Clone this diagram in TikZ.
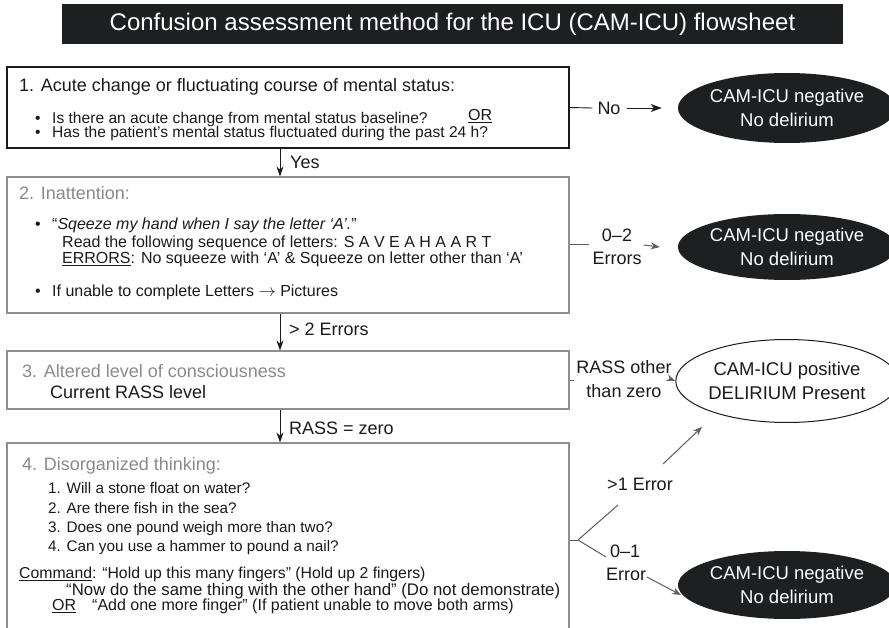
\documentclass[tikz,border=0pt]{standalone}
\usepackage{fontspec}
\setmainfont{Liberation Sans}
\usetikzlibrary{arrows.meta,shapes.geometric}
\definecolor{barfill}{HTML}{1E1F21}
\definecolor{boxgray}{HTML}{8E8E8E}
\definecolor{headgray}{HTML}{8A8A8A}
\definecolor{arrgray}{HTML}{5E5E5E}
\definecolor{inkblack}{HTML}{1A1A1A}
\tikzset{
  frameA/.style={rectangle, draw=inkblack, line width=1.1pt, inner sep=0pt},
  frameB/.style={rectangle, draw=boxgray, line width=1.1pt, inner sep=0pt},
  oval/.style={ellipse, inner sep=0pt, align=center, font=\fontsize{18.5}{24}\selectfont},
  negoval/.style={oval, fill=barfill, text=white},
  posoval/.style={oval, draw=inkblack, fill=white, line width=1pt, text=inkblack},
  head/.style={anchor=base west, inner sep=0pt, text=inkblack, font=\fontsize{18}{18}\selectfont},
  ghead/.style={head, text=headgray},
  bodytxt/.style={anchor=base west, inner sep=0pt, text=inkblack, font=\fontsize{16}{16}\selectfont},
  bultxt/.style={anchor=base west, inner sep=0pt, text=inkblack, font=\fontsize{15.6}{15.6}\selectfont},
  itemtxt/.style={anchor=base west, inner sep=0pt, text=inkblack, font=\fontsize{15.3}{15.3}\selectfont},
  cmdtxt/.style={anchor=base west, inner sep=0pt, text=inkblack, font=\fontsize{15.8}{15.8}\selectfont},
  lbl/.style={inner sep=0pt, text=inkblack, align=center, font=\fontsize{18}{23}\selectfont},
  downarr/.style={draw=inkblack, line width=1pt, -{Stealth[length=10pt,width=7pt]}},
  blackline/.style={draw=inkblack, line width=0.9pt},
  blackarr/.style={draw=inkblack, line width=0.9pt, -{Stealth[length=11pt,width=8pt,inset=3pt]}},
  grayline/.style={draw=arrgray, line width=1pt},
  grayarr/.style={draw=arrgray, line width=1pt, -{Stealth[length=9pt,width=7pt]}},
}
\begin{document}
\begin{tikzpicture}[x=1pt,y=-1pt]
\useasboundingbox (0,0) rectangle (889,628);
\clip (0,0) rectangle (889,628);

% title
\node[fill=barfill, text=white, minimum width=781pt, minimum height=40pt, inner sep=0pt,
      font=\fontsize{24}{24}\selectfont] (title) at (452.5,24)
      {Confusion assessment method for the ICU (CAM-ICU) flowsheet};

% boxes
\node[frameA, minimum width=562pt, minimum height=81pt] (b1) at (288,107.5) {};
\node[frameB, minimum width=562pt, minimum height=136pt] (b2) at (288,245) {};
\node[frameB, minimum width=562pt, minimum height=58pt] (b3) at (288,380) {};
\node[frameB, minimum width=562pt, minimum height=194pt] (b4) at (288,540) {};

% box 1 text
\node[head] (t1) at (19,92) {1. Acute change or fluctuating course of mental status:};
\node[bultxt] (t1a) at (35,123.5) {•};
\node[bultxt] (t1b) at (52,123.5) {Is there an acute change from mental status baseline?};
\node[bodytxt] (t1c) at (468,121) {\underline{OR}};
\node[bultxt] (t1d) at (35,137.5) {•};
\node[bultxt] (t1e) at (52,137.5) {Has the patient’s mental status fluctuated during the past 24 h?};

% box 2 text
\node[ghead] (t2) at (19,199.5) {2. Inattention:};
\node[bodytxt] (t2a) at (35,229.5) {•};
\node[bodytxt] (t2b) at (52,229.5) {“\textit{Sqeeze my hand when I say the letter ‘A’.}”};
\node[bodytxt] (t2c) at (62,247.5) {Read the following sequence of letters: S A V E A H A A R T};
\node[bodytxt] (t2d) at (62,263.5) {\underline{ERRORS}: No squeeze with ‘A’ \& Squeeze on letter other than ‘A’};
\node[bodytxt] (t2e) at (35,296.5) {•};
\node[bodytxt] (t2f) at (52,296.5) {If unable to complete Letters $\rightarrow$ Pictures};

% box 3 text
\node[ghead] (t3) at (22,377.5) {3. Altered level of consciousness};
\node[head] (t3a) at (50,398.5) {Current RASS level};

% box 4 text
\node[ghead] (t4) at (22,470.5) {4. Disorganized thinking:};
\node[itemtxt] (q1) at (48,493.5) {1. Will a stone float on water?};
\node[itemtxt] (q2) at (48,513) {2. Are there fish in the sea?};
\node[itemtxt] (q3) at (48,532.5) {3. Does one pound weigh more than two?};
\node[itemtxt] (q4) at (48,551.5) {4. Can you use a hammer to pound a nail?};
\node[cmdtxt] (c1) at (19,578.7) {\underline{Command}: “Hold up this many fingers” (Hold up 2 fingers)};
\node[cmdtxt, font=\fontsize{16.8}{16.8}\selectfont] (c2) at (66,595.7) {“Now do the same thing with the other hand” (Do not demonstrate)};
\node[cmdtxt, font=\fontsize{16}{16}\selectfont] (c3) at (52,610.7) {\underline{OR}};
\node[cmdtxt, font=\fontsize{16}{16}\selectfont] (c4) at (92,610.7) {“Add one more finger” (If patient unable to move both arms)};

% ovals
\node[negoval, minimum width=202pt, minimum height=70pt] (e1) at (787,108) {CAM-ICU negative\\No delirium};
\node[negoval, minimum width=202pt, minimum height=66pt] (e2) at (787,247) {CAM-ICU negative\\No delirium};
\node[posoval, minimum width=201pt, minimum height=83pt] (e3) at (787,381) {CAM-ICU positive\\DELIRIUM Present};
\node[negoval, minimum width=202pt, minimum height=68pt] (e4) at (787,585) {CAM-ICU negative\\No delirium};

% vertical flow
\draw[downarr] ([xshift=-8pt]b1.south) -- ([xshift=-8pt]b2.north);
\node[lbl, anchor=west] (ly) at (290,162) {Yes};
\draw[downarr] ([xshift=-8pt]b2.south) -- ([xshift=-8pt]b3.north);
\node[lbl, anchor=west] (l2) at (289,329) {> 2 Errors};
\draw[downarr] ([xshift=-8pt]b3.south) -- ([xshift=-8pt]b4.north);
\node[lbl, anchor=west] (l3) at (289,428) {RASS = zero};

% right-side exits
\node[lbl] (lno) at (609,108) {No};
\draw[blackline] (b1.east) -- ([xshift=-5pt]lno.west);
\draw[blackarr] ([xshift=6pt]lno.east) -- ([xshift=-16pt]e1.west);

\node[lbl] (lerr) at (617,246.5) {0–2\\Errors};
\draw[grayline] (b2.east) -- ([xshift=-3pt]lerr.west |- b2.east);
\draw[grayarr] ([xshift=2pt]lerr.east |- b2.east) -- ([xshift=-18pt]e2.west);

\node[lbl, font=\fontsize{18}{24}\selectfont] (lrass) at (624,379) {RASS other\\than zero};
\draw[grayline] (b3.east) -- ([xshift=-2pt]lrass.west |- b3.east);
\draw[grayarr] ([xshift=1pt]lrass.east |- b3.east) -- (e3.west);

% fork from box 4
\coordinate (fork) at (578,540);
\coordinate (upA) at (618,505);
\coordinate (upB) at (663,464);
\coordinate (upTip) at (702,427);
\coordinate (dnA) at (606,557);
\coordinate (dnB) at (647,577);
\coordinate (dnTip) at (681,595);
\draw[grayline] (b4.east) -- (fork);
\draw[grayline] (fork) -- (upA);
\draw[grayarr] (upB) -- (upTip);
\draw[grayline] (fork) -- (dnA);
\draw[grayarr] (dnB) -- (dnTip);
\node[lbl] (lgt) at (640,484) {>1 Error};
\node[lbl, anchor=west] (l01a) at (610,551) {0–1};
\node[lbl, anchor=west] (l01b) at (606,574) {Error};
\end{tikzpicture}
\end{document}
